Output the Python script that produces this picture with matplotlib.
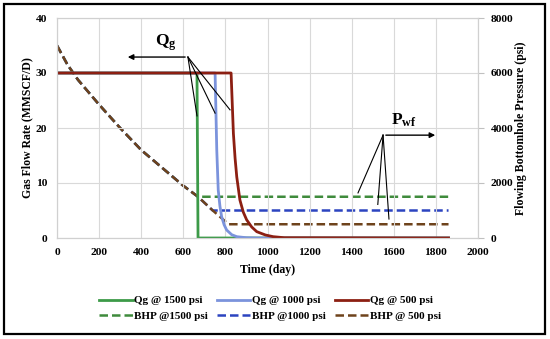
import matplotlib
matplotlib.use("Agg")
import matplotlib.pyplot as plt
from matplotlib.patches import Rectangle

plt.rcParams['font.family'] = ['Liberation Serif', 'DejaVu Serif']
plt.rcParams['font.weight'] = 'bold'
plt.rcParams['mathtext.fontset'] = 'custom'
plt.rcParams['mathtext.rm'] = 'Liberation Serif:bold'
plt.rcParams['mathtext.bf'] = 'Liberation Serif:bold'
plt.rcParams['mathtext.it'] = 'Liberation Serif:bold'

# ---- data ----
t_q1500 = [0, 665, 670, 1860]
q_q1500 = [30, 30, 0, 0]

t_q1000 = [0, 751, 755, 759, 766, 774, 782, 794, 806, 830, 854, 900, 950, 1860]
q_q1000 = [30, 30, 23, 16, 8.7, 5.8, 3.9, 2.4, 1.45, 0.6, 0.24, 0.05, 0, 0]

t_q500 = [0, 827, 832, 838, 846, 854, 869, 885, 901, 925, 949, 990, 1027, 1080, 1860]
q_q500 = [30, 30, 25, 19, 14.5, 11.1, 6.9, 4.7, 3.3, 2.0, 1.15, 0.55, 0.24, 0.05, 0]

t_bhp_base = [0, 50, 100, 200, 300, 400, 500, 600, 670, 740, 815]
p_bhp_base = [7000, 6300, 5750, 4850, 4000, 3200, 2550, 1900, 1500, 1000, 500]
t_end = 1860
bhp_levels = [1500, 1000, 500]

x_ticks = list(range(0, 2001, 200))
yl_ticks = [0, 10, 20, 30, 40]
yr_ticks = [0, 2000, 4000, 6000, 8000]

labels_q = ["Qg @ 1500 psi", "Qg @ 1000 psi", "Qg @ 500 psi"]
labels_b = ["BHP @1500 psi", "BHP @1000 psi", "BHP @ 500 psi"]

c_q = ["#3c9a48", "#7b93dc", "#8c1f12"]
c_b = ["#3f8b3c", "#2c44c0", "#6e431c"]


def bhp_curve(level):
    ts, ps = [], []
    for t, p in zip(t_bhp_base, p_bhp_base):
        if p > level:
            ts.append(t)
            ps.append(p)
        else:
            t0, p0 = ts[-1], ps[-1]
            tc = t0 + (p0 - level) / (p0 - p) * (t - t0)
            ts.append(tc)
            ps.append(level)
            break
    ts.append(t_end)
    ps.append(level)
    return ts, ps


fig = plt.figure(figsize=(5.5, 3.39), dpi=100)
ax = fig.add_axes([57/550, 1-238/339, (478-57)/550, (238-18)/339])
ax2 = ax.twinx()

ax.set_xlim(0, 2000)
ax.set_ylim(0, 40)
ax2.set_ylim(0, 8000)
ax.set_xticks(x_ticks)
ax.set_yticks(yl_ticks)
ax2.set_yticks(yr_ticks)

ax.grid(True, color="#d9d9d9", lw=0.8)
ax.set_axisbelow(True)
for a in (ax, ax2):
    for s in a.spines.values():
        s.set_color("#d0d0d0")
        s.set_linewidth(0.8)

ax.tick_params(axis='both', length=0, labelsize=8.2, pad=7)
ax2.tick_params(axis='y', length=4, color="#c0c0c0", labelsize=8.2, pad=5)
for lab in ax.get_xticklabels() + ax.get_yticklabels() + ax2.get_yticklabels():
    lab.set_fontweight('bold')

handles_q = []
handles_b = []
for lvl, c, lab in zip(bhp_levels, c_b, labels_b):
    ts, ps = bhp_curve(lvl)
    h, = ax2.plot(ts, ps, color=c, lw=1.8, ls=(0, (3.4, 1.6)), label=lab)
    handles_b.append(h)

ax.set_zorder(ax2.get_zorder() + 1)
ax.patch.set_visible(False)
for tt, qq, c, lab in zip([t_q1500, t_q1000, t_q500], [q_q1500, q_q1000, q_q500], c_q, labels_q):
    h, = ax.plot(tt, qq, color=c, lw=2.0, label=lab)
    handles_q.append(h)

ax.set_xlabel("Time (day)", fontsize=8.5, fontweight='bold', labelpad=5)
ax.set_ylabel("Gas Flow Rate (MMSCF/D)", fontsize=8.5, fontweight='bold', labelpad=2)
ax2.set_ylabel("Flowing Bottomhole Pressure (psi)", fontsize=8.5, fontweight='bold', labelpad=1)

# Annotations: Qg
ax.annotate("", xy=(323, 32.9), xytext=(622, 32.9),
            arrowprops=dict(arrowstyle="-|>", color="black", lw=1.0, mutation_scale=8))
for ex, ey in [(665, 22.2), (751, 22.7), (822, 23.3)]:
    ax.plot([622, ex], [32.9, ey], color="black", lw=0.8)
ax.text(515, 33.6, r"$\mathbf{Q_g}$", fontsize=12.5, ha="center", va="bottom")

# Annotations: Pwf
ax.annotate("", xy=(1810, 18.7), xytext=(1549, 18.7),
            arrowprops=dict(arrowstyle="-|>", color="black", lw=1.0, mutation_scale=8))
for ex, ey in [(1430, 8.2), (1524, 6.1), (1577, 3.45)]:
    ax.plot([1549, ex], [18.7, ey], color="black", lw=0.8)
ax.text(1650, 19.9, r"$\mathbf{P_{wf}}$", fontsize=12.5, ha="center", va="bottom")

# Legend
order = [handles_q[0], handles_b[0], handles_q[1], handles_b[1], handles_q[2], handles_b[2]]
leg = fig.legend(handles=order, labels=[h.get_label() for h in order], ncol=3,
                 loc="center", bbox_to_anchor=(270/550, 1-308.5/339), frameon=False,
                 prop={'size': 8, 'weight': 'bold'}, handlelength=3.0,
                 handletextpad=0.15, columnspacing=0.8, labelspacing=0.55,
                 borderaxespad=0)

# Outer frame
fig.patches.append(Rectangle((4/550, 1-334/339), 541/550, 330/339, transform=fig.transFigure,
                             fill=False, edgecolor="black", lw=1.6))

fig.savefig("out.png", dpi=100)
